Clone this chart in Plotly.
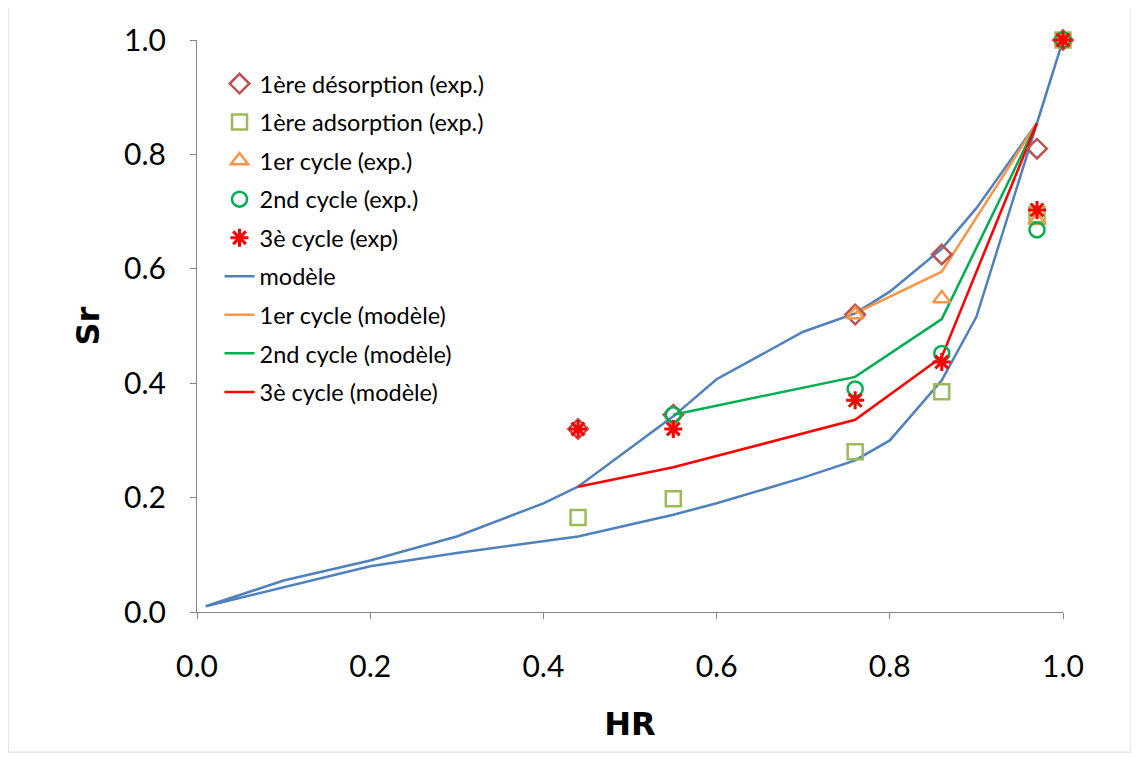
import plotly.graph_objects as go

# model curve: desorption branch (down) then adsorption branch (up)
hr_model = [1.0, 0.97, 0.9, 0.86, 0.8, 0.76, 0.7, 0.6, 0.55, 0.44, 0.4, 0.3, 0.2, 0.1, 0.01,
            0.1, 0.2, 0.3, 0.4, 0.44, 0.55, 0.6, 0.7, 0.76, 0.8, 0.86, 0.9, 0.97, 1.0]
sr_model = [1.0, 0.855, 0.706, 0.635, 0.56, 0.522, 0.49, 0.407, 0.342, 0.219, 0.19, 0.132, 0.09, 0.055, 0.01,
            0.043, 0.08, 0.103, 0.123, 0.132, 0.17, 0.19, 0.235, 0.265, 0.30, 0.405, 0.516, 0.855, 1.0]

hr_c1_model = [0.76, 0.86, 0.97]
sr_c1_model = [0.522, 0.595, 0.855]
hr_c2_model = [0.55, 0.76, 0.86, 0.97]
sr_c2_model = [0.345, 0.411, 0.512, 0.855]
hr_c3_model = [0.44, 0.55, 0.76, 0.86, 0.97]
sr_c3_model = [0.219, 0.253, 0.336, 0.446, 0.855]

# experimental points
hr_des = [0.44, 0.55, 0.76, 0.86, 0.97, 1.0]
sr_des = [0.32, 0.345, 0.52, 0.625, 0.81, 1.0]
hr_ads = [0.44, 0.55, 0.76, 0.86, 0.97, 1.0]
sr_ads = [0.165, 0.198, 0.28, 0.385, 0.695, 1.0]
hr_c1 = [0.76, 0.86, 0.97, 1.0]
sr_c1 = [0.52, 0.548, 0.685, 1.0]
hr_c2 = [0.55, 0.76, 0.86, 0.97, 1.0]
sr_c2 = [0.345, 0.39, 0.452, 0.668, 1.0]
hr_c3 = [0.44, 0.55, 0.76, 0.86, 0.97, 1.0]
sr_c3 = [0.32, 0.32, 0.37, 0.437, 0.703, 1.0]

fig = go.Figure()

lines = [
    ("modèle", hr_model, sr_model, "#4F81BD", 6),
    ("1er cycle (modèle)", hr_c1_model, sr_c1_model, "#F79646", 7),
    ("2nd cycle (modèle)", hr_c2_model, sr_c2_model, "#00B050", 8),
    ("3è cycle (modèle)", hr_c3_model, sr_c3_model, "#FF0000", 9),
]
for name, x, y, col, rank in lines:
    fig.add_trace(go.Scatter(x=x, y=y, mode="lines", name=name, legendrank=rank,
                             legendgroup=name, line=dict(color=col, width=2.5),
                             cliponaxis=False))

points = [
    ("1ère désorption (exp.)", hr_des, sr_des, "#C0504D", "diamond-open", 15, 1),
    ("1ère adsorption (exp.)", hr_ads, sr_ads, "#9BBB59", "square-open", 15, 2),
    ("1er cycle (exp.)", hr_c1, sr_c1, "#F79646", "triangle-up-open", 15, 3),
    ("2nd cycle (exp.)", hr_c2, sr_c2, "#00B050", "circle-open", 15, 4),
    ("3è cycle (exp)", hr_c3, sr_c3, "#FF0000", "asterisk-open", 15, 5),
]
for name, x, y, col, sym, size, rank in points:
    fig.add_trace(go.Scatter(x=x, y=y, mode="markers", name=name, legendrank=rank,
                             legendgroup=name,
                             marker=dict(symbol=sym, size=size, color=col,
                                         line=dict(color=col, width=3 if sym.startswith("asterisk") else 2.5)),
                             cliponaxis=False))

axis_common = dict(
    showgrid=False, zeroline=False, showline=True, linecolor="#868686", linewidth=1,
    ticks="outside", ticklen=6, tickcolor="#868686", tickformat=".1f",
    tickfont=dict(family="Lato", size=30, color="#000000"),
)

fig.update_xaxes(range=[0, 1.0], dtick=0.2, ticklabelstandoff=22,
                 title=dict(text="<b>HR</b>", standoff=30,
                            font=dict(family="DejaVu Sans", size=32, color="#000000")),
                 **axis_common)
fig.update_yaxes(range=[0, 1.0], dtick=0.2, ticklabelstandoff=18,
                 title=dict(text="<b>Sr</b>", standoff=14,
                            font=dict(family="DejaVu Sans", size=32, color="#000000")),
                 **axis_common)

fig.update_layout(
    width=1139, height=758,
    margin=dict(l=189, r=84, t=32, b=154),
    paper_bgcolor="white", plot_bgcolor="white",
    legend=dict(x=0.026, y=0.962, xanchor="left", yanchor="top",
                font=dict(family="Lato", size=23.5, color="#000000"),
                bgcolor="rgba(0,0,0,0)", tracegroupgap=5, itemwidth=30),
    shapes=[dict(type="rect", xref="paper", yref="paper",
                 x0=-0.218, x1=1.0785, y0=-0.245, y1=1.058,
                 line=dict(color="#D9D9D9", width=1), layer="below")],
)

fig.write_html("out.html")
